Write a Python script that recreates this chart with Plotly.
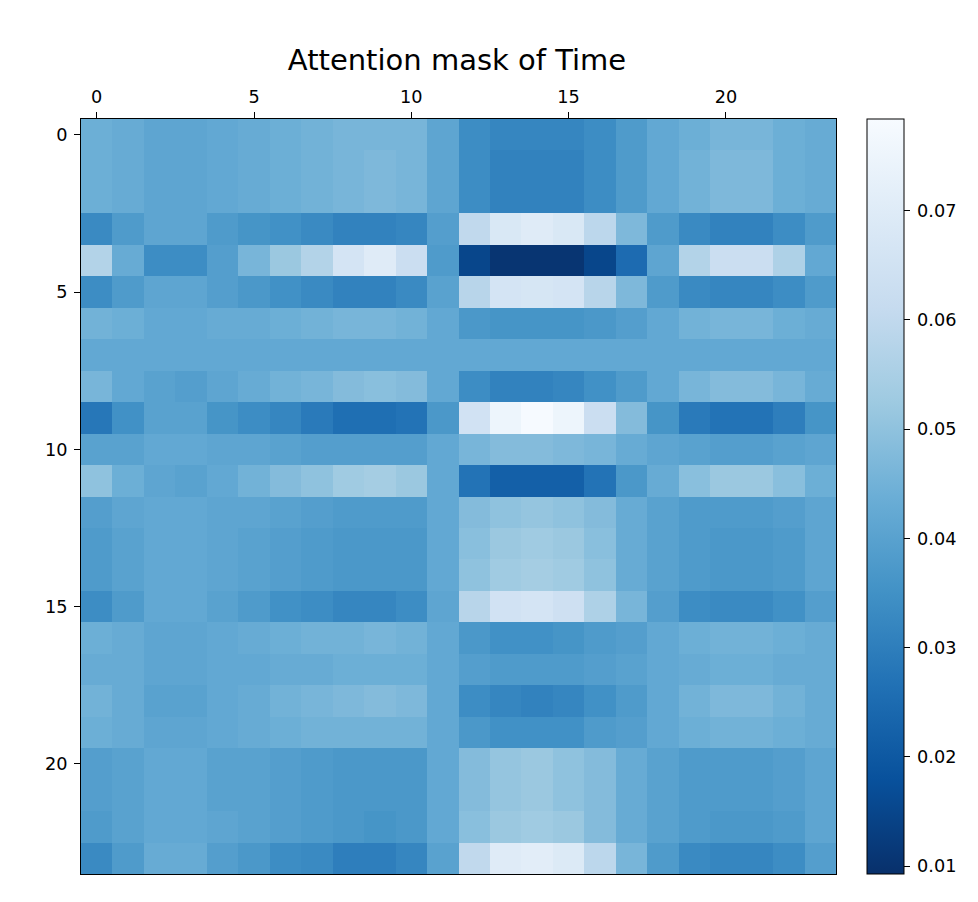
import plotly.graph_objects as go

row_00 = [.044,.043,.041,.041,.042,.043,.044,.045,.046,.046,.046,.041,.034,.032,.032,.032,.034,.038,.042,.044,.046,.046,.044,.043]
row_01 = [.044,.043,.041,.041,.042,.043,.044,.045,.046,.047,.046,.041,.034,.031,.031,.031,.034,.038,.042,.045,.047,.047,.044,.043]
row_02 = [.044,.043,.041,.041,.042,.043,.044,.045,.046,.047,.046,.041,.034,.031,.031,.031,.034,.038,.042,.045,.047,.047,.044,.043]
row_03 = [.033,.038,.041,.041,.038,.036,.035,.033,.031,.031,.032,.039,.060,.068,.070,.068,.059,.047,.038,.033,.031,.031,.034,.038]
row_04 = [.057,.043,.034,.034,.039,.046,.052,.057,.066,.070,.063,.038,.015,.0105,.0105,.0105,.015,.025,.041,.057,.063,.063,.056,.042]
row_05 = [.034,.038,.041,.041,.039,.037,.035,.033,.031,.031,.033,.040,.058,.066,.067,.066,.058,.047,.038,.033,.032,.032,.034,.038]
row_06 = [.045,.044,.042,.042,.043,.043,.044,.045,.046,.046,.045,.042,.037,.036,.036,.036,.037,.039,.042,.045,.046,.046,.044,.043]
row_07 = [.042,.042,.042,.042,.042,.042,.042,.042,.042,.042,.042,.042,.042,.042,.042,.042,.042,.042,.042,.042,.042,.042,.042,.042]
row_08 = [.046,.042,.040,.039,.041,.043,.045,.046,.048,.049,.048,.042,.034,.031,.031,.032,.035,.038,.042,.046,.048,.048,.046,.043]
row_09 = [.028,.035,.040,.040,.036,.034,.032,.029,.026,.026,.027,.037,.065,.075,.078,.075,.063,.048,.036,.029,.027,.027,.030,.036]
row_10 = [.040,.040,.042,.042,.041,.041,.040,.039,.039,.039,.039,.042,.046,.048,.048,.047,.046,.043,.041,.040,.039,.039,.040,.041]
row_11 = [.050,.044,.041,.040,.042,.045,.048,.050,.053,.054,.052,.042,.027,.022,.022,.022,.027,.037,.043,.049,.052,.052,.049,.044]
row_12 = [.039,.041,.042,.042,.041,.041,.040,.039,.038,.038,.038,.042,.048,.050,.051,.050,.048,.043,.040,.038,.038,.038,.039,.041]
row_13 = [.038,.040,.042,.042,.041,.040,.039,.038,.037,.037,.037,.042,.049,.052,.053,.052,.049,.043,.040,.038,.037,.037,.038,.041]
row_14 = [.038,.040,.042,.042,.041,.040,.039,.038,.037,.037,.037,.042,.050,.053,.054,.053,.050,.043,.040,.038,.037,.037,.038,.041]
row_15 = [.034,.038,.042,.042,.040,.038,.035,.034,.032,.032,.034,.041,.058,.065,.066,.064,.056,.046,.039,.034,.033,.033,.035,.039]
row_16 = [.044,.043,.041,.041,.042,.043,.044,.045,.045,.046,.045,.042,.037,.035,.035,.036,.038,.039,.042,.044,.045,.045,.044,.043]
row_17 = [.043,.043,.041,.041,.042,.042,.043,.043,.044,.044,.044,.042,.039,.038,.038,.038,.039,.040,.042,.043,.044,.044,.043,.043]
row_18 = [.045,.043,.040,.040,.042,.043,.045,.046,.047,.048,.047,.042,.034,.032,.031,.032,.035,.038,.042,.045,.047,.047,.045,.043]
row_19 = [.044,.043,.041,.041,.042,.043,.044,.045,.045,.045,.045,.042,.037,.035,.035,.035,.038,.039,.042,.044,.045,.045,.044,.043]
row_20 = [.039,.040,.042,.042,.040,.040,.039,.038,.037,.037,.037,.042,.048,.051,.052,.050,.048,.043,.040,.038,.038,.038,.039,.041]
row_21 = [.039,.040,.042,.042,.040,.040,.039,.038,.037,.037,.037,.042,.048,.051,.052,.050,.048,.043,.040,.038,.038,.038,.039,.041]
row_22 = [.038,.040,.042,.042,.041,.040,.039,.038,.037,.036,.037,.042,.049,.052,.053,.052,.048,.043,.040,.038,.037,.037,.038,.041]
row_23 = [.033,.038,.043,.043,.039,.037,.034,.033,.030,.030,.032,.040,.060,.070,.071,.069,.059,.046,.038,.033,.032,.032,.034,.039]

matrix = [row_00,row_01,row_02,row_03,row_04,row_05,row_06,row_07,row_08,row_09,row_10,row_11,
          row_12,row_13,row_14,row_15,row_16,row_17,row_18,row_19,row_20,row_21,row_22,row_23]
x_ticks = [0,5,10,15,20]
y_ticks = [0,5,10,15,20]
cbar_ticks = [0.01,0.02,0.03,0.04,0.05,0.06,0.07]
title = "Attention mask of Time"

blues_r = [[0,"#08306b"],[.125,"#08519c"],[.25,"#2171b5"],[.375,"#4292c6"],[.5,"#6baed6"],
           [.625,"#9ecae1"],[.75,"#c6dbef"],[.875,"#deebf7"],[1,"#f7fbff"]]
FONT = "DejaVu Sans"
TICK = 17.7

fig = go.Figure(go.Heatmap(
    z=matrix, colorscale=blues_r, zmin=0.00927, zmax=0.0784,
    colorbar=dict(x=1.0417, xanchor="left", xpad=0, ypad=0, y=0.5, yanchor="middle",
                  len=1, lenmode="fraction", thickness=37, thicknessmode="pixels",
                  outlinecolor="black", outlinewidth=1,
                  tickmode="array", tickvals=cbar_ticks, ticktext=["\u2009" + f"{t:.2f}" for t in cbar_ticks],
                  ticks="outside", ticklen=6, tickwidth=1, tickcolor="black",
                  tickfont=dict(family=FONT, size=TICK, color="black")),
))
fig.update_layout(
    width=978, height=902, margin=dict(l=73, r=150, t=111, b=36),
    paper_bgcolor="white", plot_bgcolor="white",
    title=dict(text=title, x=449/978, xanchor="center", y=1-52/902, yanchor="middle",
               font=dict(family=FONT, size=29, color="black")),
    xaxis=dict(side="top", range=[-0.5,23.5], tickmode="array", tickvals=x_ticks,
               ticks="outside", ticklen=6, tickwidth=1, tickcolor="black", ticklabelstandoff=2,
               showline=True, mirror=True, linecolor="black", linewidth=1, showgrid=False, zeroline=False,
               tickfont=dict(family=FONT, size=TICK, color="black")),
    yaxis=dict(range=[23.5,-0.5], tickmode="array", tickvals=y_ticks,
               ticks="outside", ticklen=6, tickwidth=1, tickcolor="black", ticklabelstandoff=3,
               showline=True, mirror=True, linecolor="black", linewidth=1, showgrid=False, zeroline=False,
               tickfont=dict(family=FONT, size=TICK, color="black")),
)
fig.write_html("out.html")
